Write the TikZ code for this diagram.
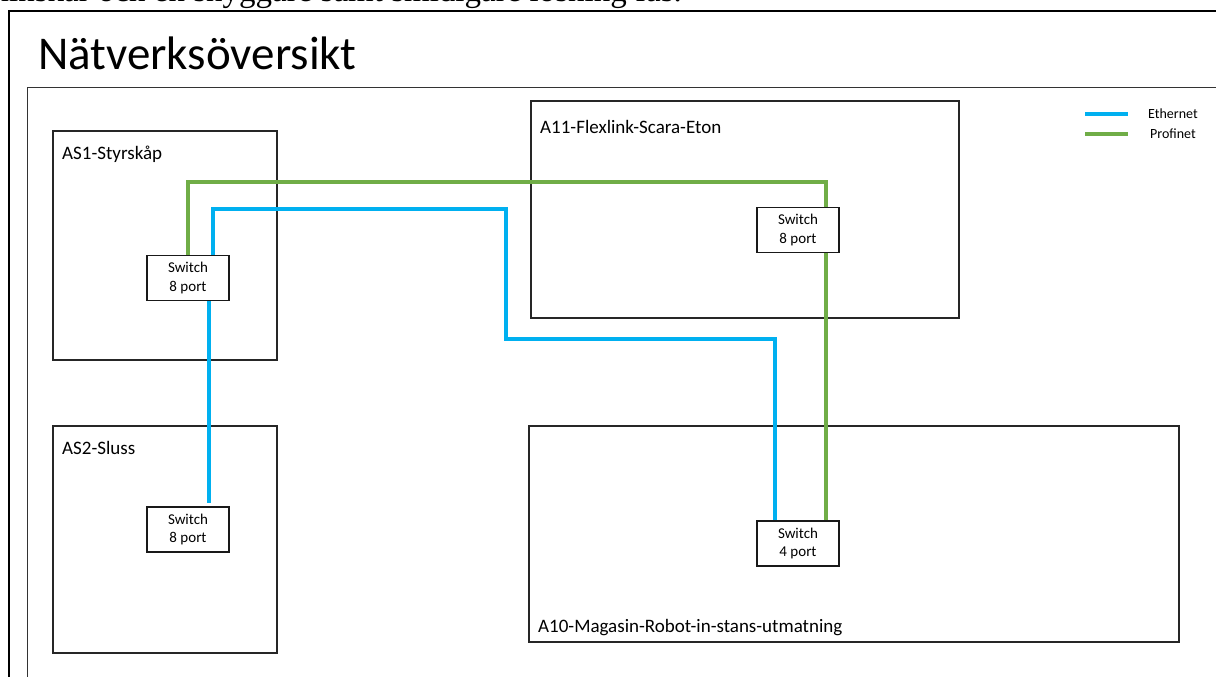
\documentclass[tikz,border=0pt]{standalone}
\usepackage{fontspec}
\setmainfont{Carlito}
\newfontfamily\serifface{Liberation Serif}
\definecolor{ethblue}{HTML}{00B0F0}
\definecolor{progreen}{HTML}{70AD47}
\pgfdeclarelayer{bg}
\pgfdeclarelayer{lines}
\pgfsetlayers{bg,lines,main}
\begin{document}
\begin{tikzpicture}[x=1pt,y=-1pt,
  area/.style={draw=black!85,line width=1.3pt},
  arealabel/.style={inner sep=0pt,font=\fontsize{19}{22}\selectfont},
  sw/.style={draw=black!90,fill=white,line width=1.2pt,minimum width=82pt,minimum height=45pt,align=center,inner sep=0pt,font=\fontsize{15}{18.5}\selectfont},
  eth/.style={draw=ethblue,line width=4pt},
  pro/.style={draw=progreen,line width=4pt},
  legtext/.style={anchor=west,inner sep=0pt,font=\fontsize{14}{16}\selectfont}]
\useasboundingbox (0,0) rectangle (1216,677);
\clip (0,0) rectangle (1216,677);
% page text above the figure
\node[anchor=base east,inner sep=0pt,font=\serifface\fontsize{33}{36}\selectfont] (pagetext) at (682,2) {minskar och en snyggare samt smidigare lösning fås.};
\begin{pgfonlayer}{bg}
% frames
\draw[black,line width=2pt] (1240,11) -- (9,11) -- (9,700);
\draw[black!80,line width=1pt] (1240,88) -- (27,88) -- (27,700);
% areas
\draw[area] (53,131) rectangle (277,360);
\draw[area] (53,426) rectangle (277,653);
\draw[area] (531,101) rectangle (959,318);
\draw[area] (529,426) rectangle (1179,642);
\end{pgfonlayer}
\node[anchor=base west,inner sep=0pt,font=\fontsize{47}{52}\selectfont] (title) at (38,70) {Nätverksöversikt};
\node[arealabel,anchor=base west] (as1) at (62,159) {AS1-Styrskåp};
\node[arealabel,anchor=base west] (as2) at (62,454) {AS2-Sluss};
\node[arealabel,anchor=base west] (a11) at (540,133) {A11-Flexlink-Scara-Eton};
\node[arealabel,anchor=base west] (a10) at (538,632) {A10-Magasin-Robot-in-stans-utmatning};
% switches
\node[sw] (s1) at (188,278) {Switch\\8 port};
\node[sw] (s2) at (188,529.5) {Switch\\8 port};
\node[sw] (s3) at (798,230) {Switch\\8 port};
\node[sw] (s4) at (798,543.5) {Switch\\4 port};
\coordinate (s2end) at (209,503);
% connectors
\begin{pgfonlayer}{lines}
\draw[pro] (s1.north) -- (188,182) -- (826,182) -- ([xshift=28pt]s4.north);
\draw[eth] ([xshift=25pt]s1.north) -- (213,209) -- (506,209) -- (506,339) -- (775,339) -- ([xshift=-23pt]s4.north);
\draw[eth] ([xshift=21pt]s1.south) -- (s2end);
\end{pgfonlayer}
% legend
\coordinate (le1) at (1085,114);
\coordinate (le2) at (1128,114);
\coordinate (lp1) at (1085,134);
\coordinate (lp2) at (1128,134);
\draw[eth] (le1) -- (le2);
\draw[pro] (lp1) -- (lp2);
\node[legtext] (leth) at (1148,114) {Ethernet};
\node[legtext] (lpro) at (1150,134) {Profinet};
\end{tikzpicture}
\end{document}
